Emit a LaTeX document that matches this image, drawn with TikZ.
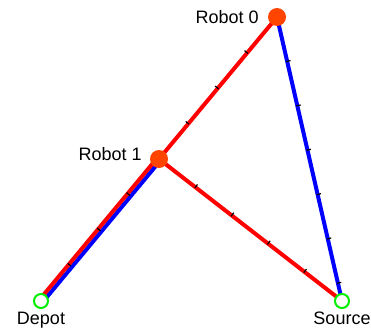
\documentclass[tikz,border=0pt]{standalone}
\usepackage{fontspec}
\setmainfont{Liberation Sans}
\usetikzlibrary{calc,decorations.markings}
\definecolor{robotcol}{HTML}{FF4500}
\definecolor{pathred}{HTML}{FF0000}
\definecolor{pathblue}{HTML}{0000FF}
\definecolor{basegreen}{HTML}{00EE00}
\pgfdeclarelayer{background}
\pgfsetlayers{background,main}

\begin{document}
\begin{tikzpicture}[
  x=1pt,
  y=-1pt,
  every node/.style={font=\fontsize{18}{21}\selectfont},
  robot/.style={circle, fill=robotcol, minimum size=18pt, inner sep=0pt},
  base/.style={circle, draw=basegreen, line width=2pt, fill=white, minimum size=14pt, inner sep=0pt},
  lbl/.style={inner sep=0pt},
  redpath/.style={draw=pathred, line width=4pt},
  bluepath/.style={draw=pathblue, line width=4pt},
  ticks/.style={postaction={decorate, decoration={markings,
    mark=between positions #1 and 1 step #1 with {\draw[black, line width=1.2pt] (0,-1pt) -- (0,3.5pt);}}}}
]
\useasboundingbox (0,0) rectangle (371,329);

\node[robot, label={[lbl, label distance=9pt]left:Robot 0}] (robot0) at (277,17) {};
\node[robot, label={[lbl, label distance=8pt, yshift=5pt]left:Robot 1}] (robot1) at (159,159) {};
\node[base, label={[lbl, label distance=3pt]below:Depot}] (depot) at (41,301) {};
\node[base, label={[lbl, label distance=3pt]below:Source}] (source) at (342,301) {};

\begin{pgfonlayer}{background}
% shared leg, drawn twice side by side
\draw[bluepath] ($(depot.center)!2pt!-90:(robot1.center)$) -- ($(robot1.center)!2pt!90:(depot.center)$);
\draw[redpath] ($(depot.center)!2pt!90:(robot1.center)$) -- ($(robot1.center)!2pt!-90:(depot.center)$);
\path[ticks=46pt] (depot.center) -- (robot1.center);
\draw[redpath, ticks=46pt] (robot1.center) -- (robot0.center);
\draw[redpath, ticks=46pt] (robot1.center) -- (source.center);
\draw[bluepath, ticks=45.5pt] (robot0.center) -- (source.center);
\end{pgfonlayer}
\end{tikzpicture}
\end{document}
